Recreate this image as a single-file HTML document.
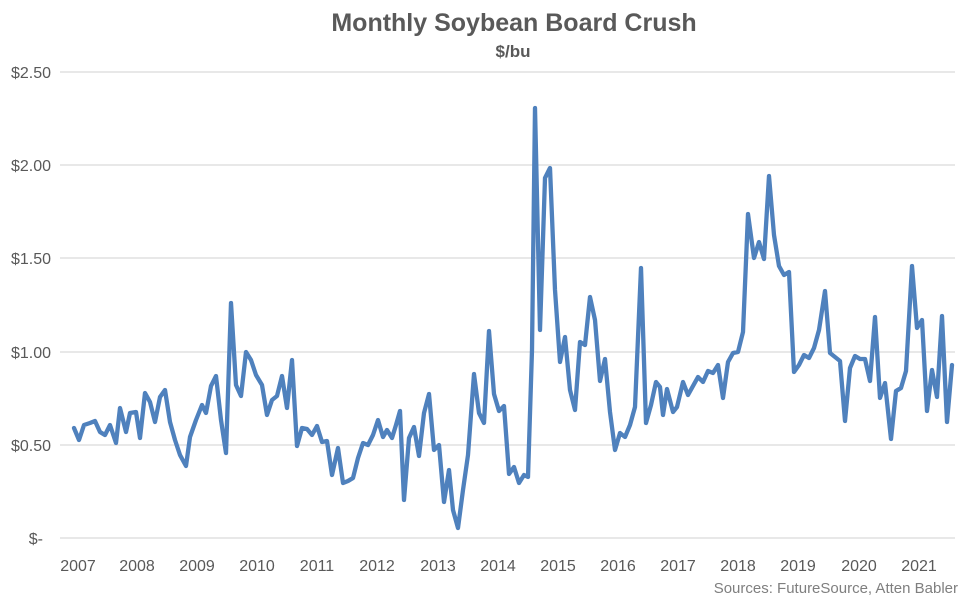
<!DOCTYPE html>
<html><head><meta charset="utf-8"><style>
body{margin:0;background:#fff;}
text{font-family:"Liberation Sans",Calibri,sans-serif;}
</style></head><body>
<svg width="975" height="600" viewBox="0 0 975 600" xmlns="http://www.w3.org/2000/svg">
<rect width="975" height="600" fill="#fff"/>
<text x="514" y="31" text-anchor="middle" font-size="25" font-weight="bold" fill="#595959">Monthly Soybean Board Crush</text>
<text x="513" y="57" text-anchor="middle" font-size="17" font-weight="bold" fill="#595959">$/bu</text>
<g stroke="#d9d9d9" stroke-width="1.3">
<line x1="60" x2="955" y1="72" y2="72"/><line x1="60" x2="955" y1="165" y2="165"/>
<line x1="60" x2="955" y1="258" y2="258"/><line x1="60" x2="955" y1="352" y2="352"/>
<line x1="60" x2="955" y1="445" y2="445"/><line x1="60" x2="955" y1="538" y2="538"/>
</g>
<g font-size="16" fill="#595959" text-anchor="end">
<text x="51" y="78">$2.50</text><text x="51" y="171">$2.00</text><text x="51" y="264">$1.50</text>
<text x="51" y="358">$1.00</text><text x="51" y="451">$0.50</text><text x="43" y="544">$-</text>
</g>
<g font-size="16" fill="#595959" text-anchor="middle">
<text x="78" y="571">2007</text><text x="137" y="571">2008</text><text x="197" y="571">2009</text>
<text x="257" y="571">2010</text><text x="317" y="571">2011</text><text x="377" y="571">2012</text>
<text x="438" y="571">2013</text><text x="498" y="571">2014</text><text x="558" y="571">2015</text>
<text x="618" y="571">2016</text><text x="678" y="571">2017</text><text x="738" y="571">2018</text>
<text x="798" y="571">2019</text><text x="859" y="571">2020</text><text x="919" y="571">2021</text>
</g>
<text x="958" y="593" text-anchor="end" font-size="15" fill="#7f7f7f">Sources: FutureSource, Atten Babler</text>
<polyline fill="none" stroke="#4f81bd" stroke-width="4.3" stroke-linejoin="round" stroke-linecap="round" points="
74,428 79,440 84,425 90,423 95,421 100,432 105,435 110,425 116,443 120,408 126,432 130,413 136,412 140,438 145,393 150,402 155,422 160,397 165,390 170,422 175,440 180,455 186,466 190,437 196,420 202,405 206,413 211,386 216,376 221,420 226,453 231,303 236,385 241,396 246,352 251,360 256,375 262,385 267,415 272,400 277,396 282,376 287,408 292,360 297,446 302,428 307,429 312,435 317,426 322,442 327,441 332,475 338,448 343,483 348,481 353,478 358,458 363,443 368,445 373,435 378,420 383,437 387,430 392,438 396,425 400,411 404,500 409,438 414,427 419,456 424,413 429,394 434,450 439,445 444,502 449,470 453,510 458,528 463,490 468,455 474,374 479,413 484,423 489,331 494,394 499,411 504,406 509,474 514,467 519,483 524,475 528,477 532,350 535,108 540,330 545,178 550,168 555,290 560,362 565,337 570,390 575,410 580,342 585,345 590,297 595,320 600,381 605,359 610,412 615,450 620,433 625,437 630,425 635,407 641,268 646,423 651,405 656,382 660,387 663,415 667,389 673,412 677,407 683,382 688,395 698,377 703,382 708,371 713,373 718,365 723,398 728,362 733,353 738,352 743,332 748,214 754,258 759,242 764,259 769,176 774,235 779,266 784,275 789,272 794,372 799,365 804,355 809,358 814,348 819,330 825,291 830,353 840,361 845,421 850,368 855,356 860,359 865,359 870,381 875,317 880,398 885,383 891,439 896,391 901,388 906,371 912,266 917,328 922,320 927,411 932,370 937,397 942,316 947,422 952,365"/>
</svg>
</body></html>
